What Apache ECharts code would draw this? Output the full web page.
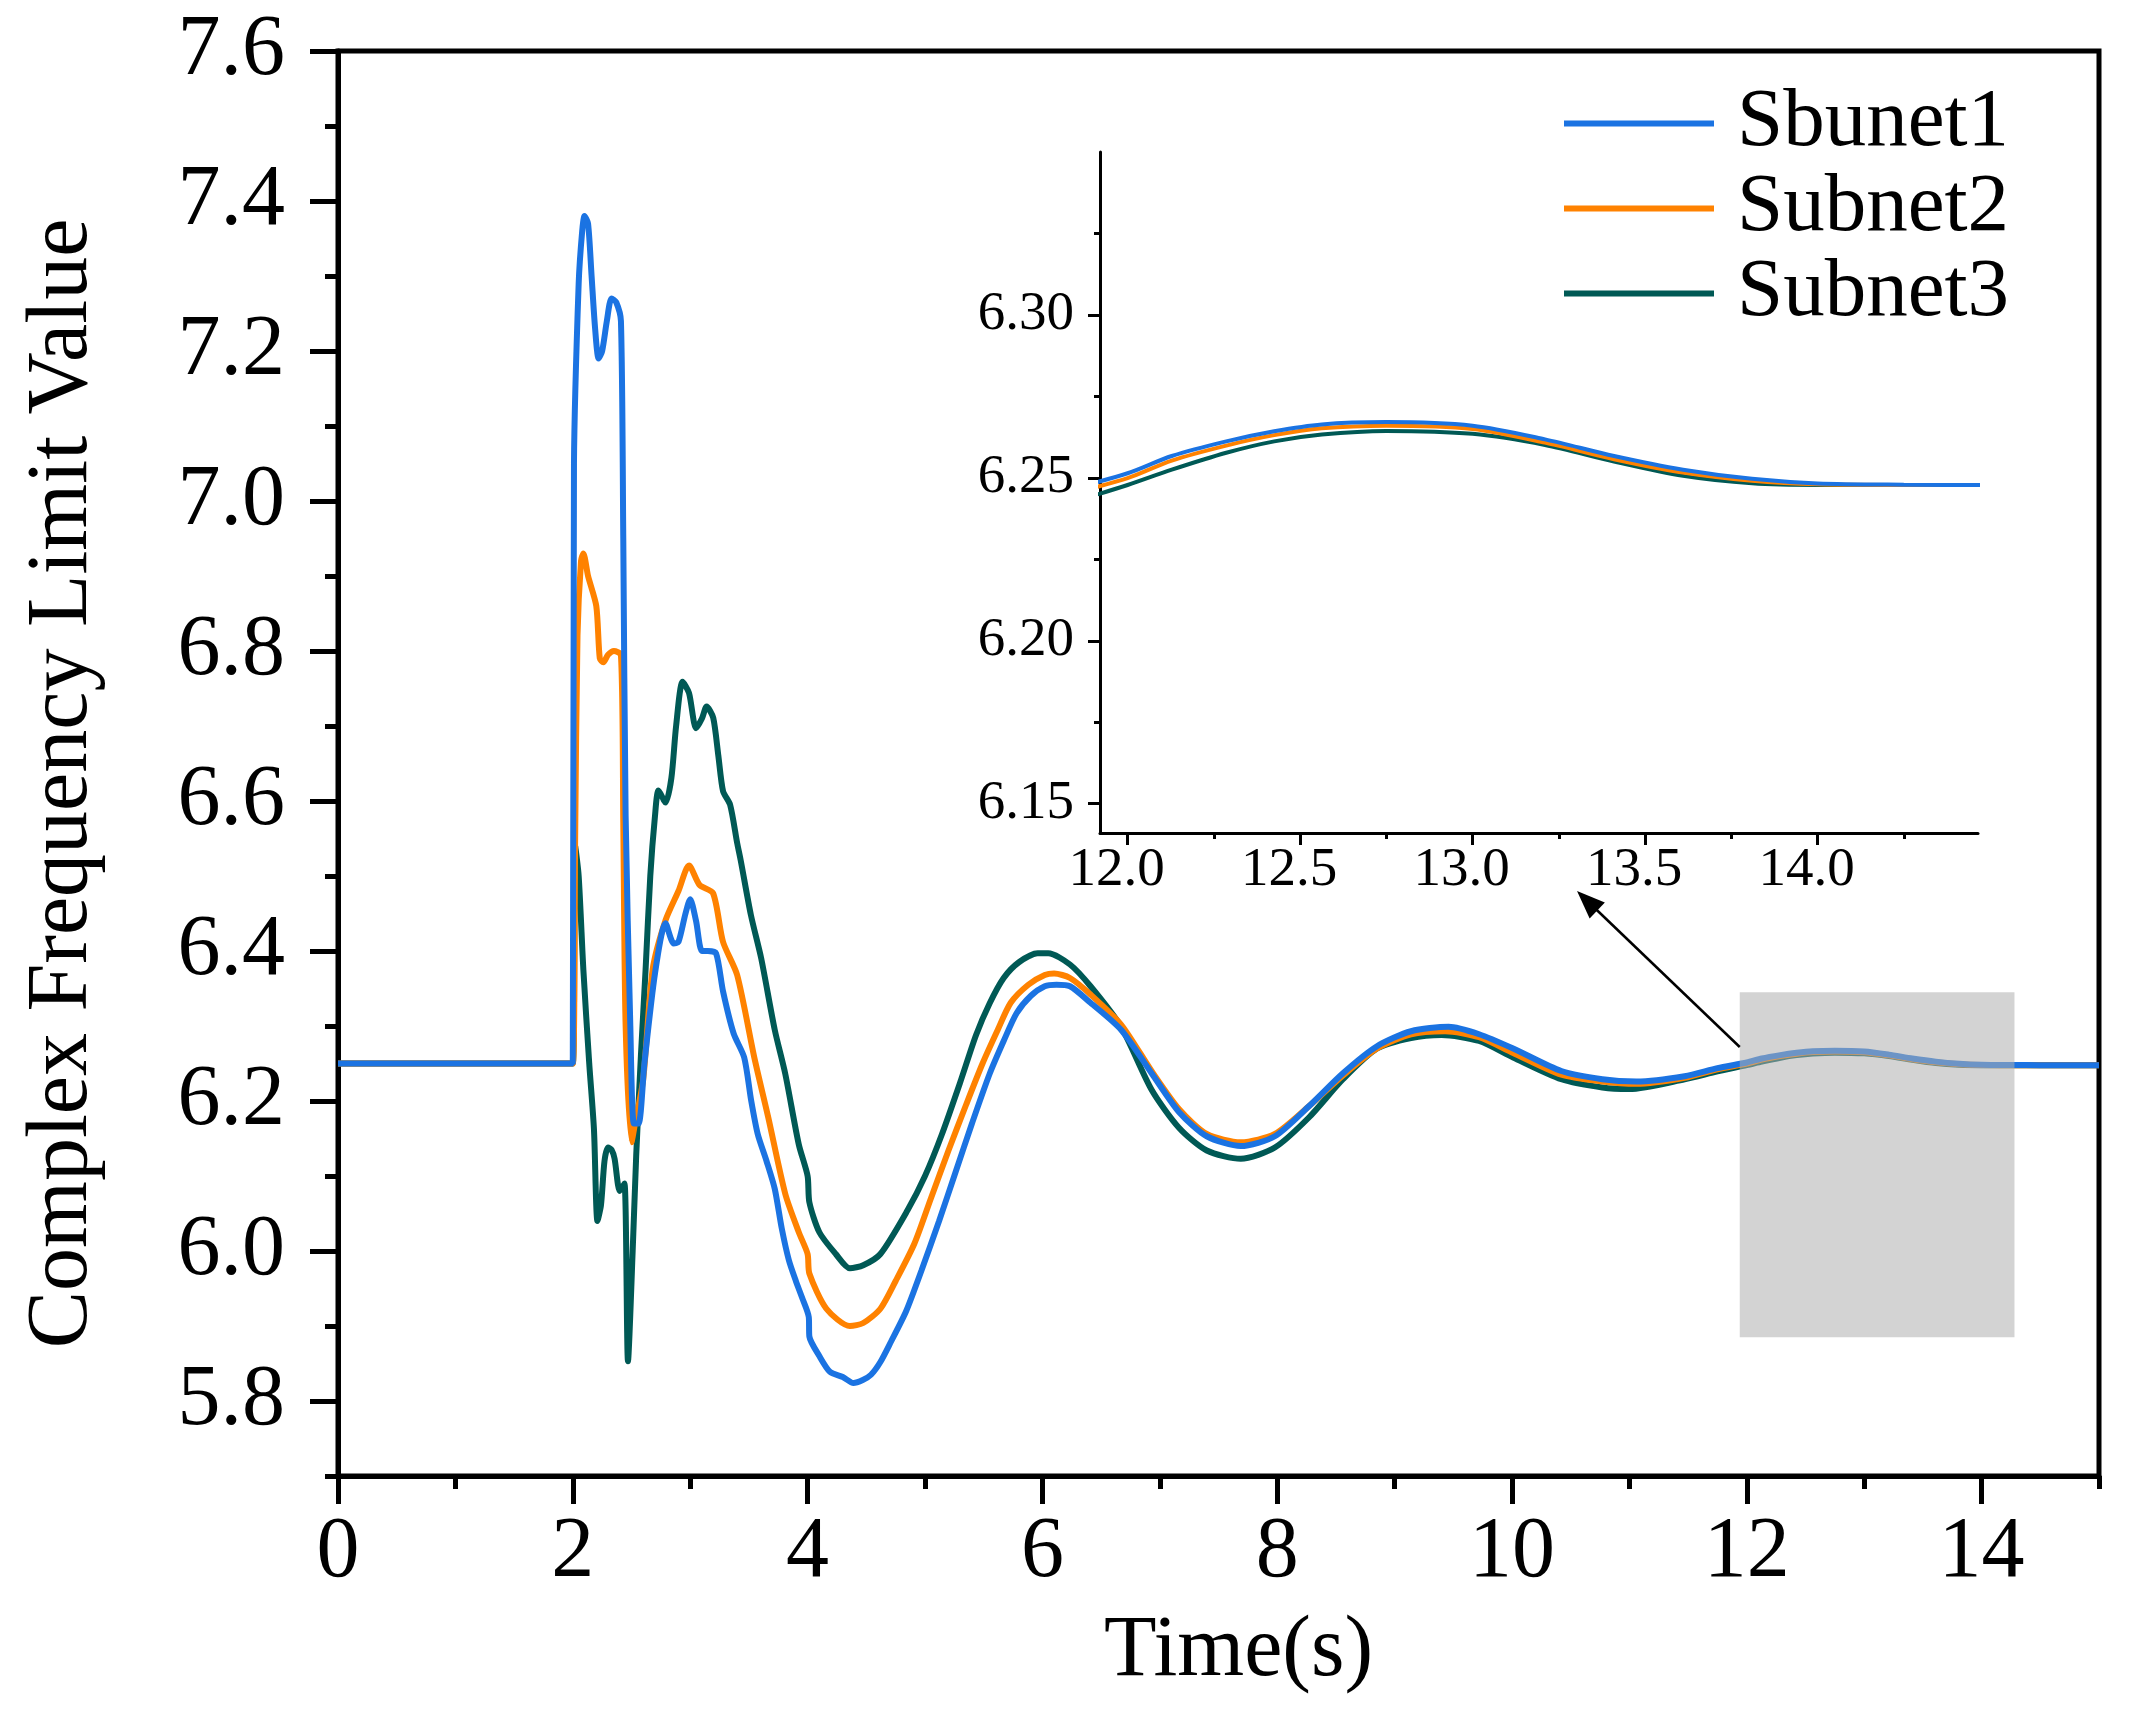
<!DOCTYPE html>
<html><head><meta charset="utf-8">
<script src="https://cdn.jsdelivr.net/npm/echarts@6/dist/echarts.min.js"></script>
<style>html,body{margin:0;padding:0;background:#fff}#c{width:2141px;height:1719px}</style>
</head><body><div id="c"></div>
<script>
// ---- data ----
const sbunet1 = [[0,6.25],[1.95,6.25],[2.0,6.25],[2.01,7.05],[2.05,7.29],[2.08,7.36],[2.1,7.38],[2.13,7.37],[2.16,7.30],[2.19,7.23],[2.22,7.19],[2.25,7.20],[2.29,7.24],[2.33,7.27],[2.37,7.265],[2.41,7.24],[2.43,6.95],[2.45,6.58],[2.49,6.30],[2.52,6.17],[2.56,6.17],[2.61,6.25],[2.7,6.37],[2.79,6.437],[2.86,6.41],[2.9,6.412],[2.96,6.45],[3.0,6.469],[3.05,6.44],[3.1,6.40],[3.15,6.40],[3.22,6.397],[3.28,6.346],[3.37,6.29],[3.46,6.258],[3.52,6.20],[3.575,6.156],[3.65,6.12],[3.72,6.083],[3.78,6.03],[3.84,5.988],[3.9,5.96],[3.955,5.937],[4.01,5.912],[4.015,5.886],[4.1,5.86],[4.19,5.839],[4.3,5.832],[4.39,5.824],[4.47,5.828],[4.54,5.835],[4.62,5.852],[4.71,5.879],[4.84,5.92],[4.97,5.974],[5.12,6.04],[5.26,6.105],[5.4,6.17],[5.55,6.236],[5.67,6.28],[5.78,6.317],[5.9,6.34],[6.02,6.353],[6.12,6.355],[6.235,6.353],[6.41,6.331],[6.67,6.295],[6.93,6.237],[7.165,6.185],[7.4,6.153],[7.69,6.14],[7.98,6.153],[8.27,6.193],[8.56,6.237],[8.85,6.273],[9.14,6.293],[9.46,6.299],[9.72,6.289],[10.01,6.27],[10.42,6.24],[10.77,6.229],[11.06,6.226],[11.47,6.233],[11.75,6.2438],[12.0,6.2514],[12.128,6.2567],[12.286,6.2612],[12.425,6.2643],[12.563,6.2664],[12.75,6.2671],[13.0,6.266],[13.21,6.2618],[13.41,6.2567],[13.61,6.2525],[13.81,6.2497],[14.0,6.2483],[14.25,6.2479],[14.5,6.2478],[15,6.2476]];
const subnet2 = [[0,6.25],[1.95,6.25],[2.0,6.25],[2.02,6.55],[2.04,6.82],[2.07,6.92],[2.09,6.93],[2.13,6.90],[2.2,6.86],[2.23,6.79],[2.26,6.785],[2.3,6.795],[2.35,6.80],[2.41,6.795],[2.43,6.57],[2.45,6.30],[2.50,6.145],[2.53,6.17],[2.6,6.229],[2.68,6.375],[2.79,6.441],[2.9,6.48],[2.99,6.514],[3.08,6.488],[3.195,6.477],[3.28,6.412],[3.4,6.368],[3.546,6.258],[3.665,6.178],[3.81,6.076],[3.925,6.025],[4.0,5.996],[4.015,5.97],[4.16,5.923],[4.36,5.90],[4.474,5.904],[4.62,5.923],[4.75,5.96],[4.91,6.01],[5.05,6.07],[5.2,6.134],[5.35,6.195],[5.49,6.25],[5.62,6.295],[5.73,6.331],[5.88,6.355],[6.02,6.368],[6.1,6.37],[6.235,6.364],[6.41,6.342],[6.67,6.302],[6.93,6.24],[7.165,6.189],[7.4,6.156],[7.69,6.145],[7.98,6.156],[8.27,6.193],[8.56,6.234],[8.85,6.27],[9.14,6.289],[9.43,6.293],[9.72,6.285],[10.01,6.264],[10.42,6.235],[10.77,6.226],[11.06,6.223],[11.47,6.231],[11.75,6.2424],[12.0,6.2499],[12.128,6.2553],[12.286,6.2599],[12.425,6.2631],[12.563,6.2652],[12.75,6.2660],[13.0,6.2650],[13.21,6.2608],[13.41,6.2557],[13.61,6.2516],[13.81,6.2491],[14.0,6.2480],[14.25,6.2478],[14.5,6.2478],[15,6.2476]];
const subnet3 = [[0,6.25],[1.95,6.25],[2.0,6.25],[2.02,6.54],[2.05,6.5],[2.09,6.375],[2.14,6.25],[2.18,6.163],[2.21,6.04],[2.24,6.061],[2.27,6.12],[2.30,6.138],[2.33,6.135],[2.356,6.123],[2.40,6.08],[2.44,6.09],[2.47,5.853],[2.51,6.0],[2.54,6.127],[2.58,6.26],[2.62,6.375],[2.66,6.5],[2.70,6.58],[2.73,6.614],[2.79,6.598],[2.84,6.631],[2.88,6.7],[2.935,6.759],[2.99,6.744],[3.05,6.697],[3.1,6.71],[3.14,6.726],[3.196,6.711],[3.24,6.66],[3.28,6.613],[3.34,6.595],[3.40,6.544],[3.43,6.521],[3.517,6.448],[3.605,6.39],[3.72,6.295],[3.81,6.236],[3.925,6.142],[4.0,6.10],[4.015,6.065],[4.1,6.025],[4.24,5.996],[4.36,5.977],[4.474,5.981],[4.62,5.996],[4.85,6.054],[5.0,6.1],[5.145,6.156],[5.3,6.225],[5.435,6.288],[5.55,6.33],[5.67,6.364],[5.8,6.385],[5.96,6.397],[6.05,6.397],[6.235,6.382],[6.41,6.353],[6.67,6.299],[6.93,6.215],[7.165,6.164],[7.4,6.134],[7.69,6.123],[7.98,6.138],[8.27,6.178],[8.56,6.229],[8.85,6.27],[9.14,6.284],[9.40,6.288],[9.72,6.28],[10.01,6.258],[10.42,6.229],[10.77,6.218],[11.0,6.216],[11.47,6.229],[11.75,6.2395],[12.0,6.2478],[12.128,6.2525],[12.286,6.2577],[12.425,6.2612],[12.563,6.2633],[12.75,6.2644],[13.0,6.2635],[13.21,6.2601],[13.41,6.255],[13.61,6.2506],[13.81,6.2483],[14.0,6.2478],[14.25,6.2478],[14.5,6.2478],[15,6.2476]];

const seriesNames = ['Sbunet1','Subnet2','Subnet3'];
const xMajor = [0,2,4,6,8,10,12,14];
const xMinor = [1,3,5,7,9,11,13,15];
const yMajor = [5.8,6.0,6.2,6.4,6.6,6.8,7.0,7.2,7.4,7.6];
const yMinor = [5.7,5.9,6.1,6.3,6.5,6.7,6.9,7.1,7.3,7.5];
const insetXMajor = [12.0,12.5,13.0,13.5,14.0];
const insetXMinor = [12.25,12.75,13.25,13.75,14.25];
const insetYMajor = [6.15,6.20,6.25,6.30];
const insetYMinor = [6.175,6.225,6.275,6.325];
const zoomBox = [[11.94,5.885],[14.28,6.345]];
const arrowLine = [[11.94,6.272],[10.64,6.467]];

// ---- style ----
const FONT = 'Liberation Serif';
const BLUE = '#1b73e2', ORANGE = '#ff8200', GREEN = '#005955';

function mainLine(name, data, color) {
  return {type:'line', name:name, data:data, xAxisIndex:0, yAxisIndex:0, symbol:'none', showSymbol:false,
    smooth:0.25, lineStyle:{color:color, width:6}, itemStyle:{color:color}, z:3, silent:true};
}
function insetLine(name, data, color) {
  return {type:'line', name:name, data:data, xAxisIndex:2, yAxisIndex:2, symbol:'none', showSymbol:false,
    smooth:0.3, lineStyle:{color:color, width:4}, itemStyle:{color:color}, z:3, silent:true};
}
function tickAxis(grid, min, max, pos, vals, len, w) {
  return {gridIndex:grid, type:'value', min:min, max:max, position:pos,
    axisLine:{show:false, onZero:false},
    axisTick:{show:true, inside:false, length:len, lineStyle:{color:'#000', width:w}, customValues:vals},
    axisLabel:{show:false}, splitLine:{show:false}};
}

const option = {
  animation:false,
  backgroundColor:'#fff',
  grid:[
    {left:338, right:42, top:51, bottom:243, show:true, borderColor:'#000', borderWidth:5, backgroundColor:'transparent'},
    {left:1100, right:163, top:152, bottom:886, show:false}
  ],
  legend:{
    data:seriesNames.map(function(n){return {name:n, icon:'rect'};}),
    orient:'vertical', left:1559, top:76,
    itemWidth:150, itemHeight:6, itemGap:0, selectedMode:false,
    textStyle:{fontFamily:FONT, fontSize:83, color:'#000', lineHeight:85, padding:[0,0,0,18]}
  },
  xAxis:[
    {gridIndex:0, type:'value', min:0, max:15, position:'bottom',
      axisLine:{show:true, onZero:false, lineStyle:{color:'#000', width:5}},
      axisTick:{show:true, inside:false, length:28, lineStyle:{color:'#000', width:5}, customValues:xMajor},
      axisLabel:{show:true, customValues:xMajor, margin:34, color:'#000', fontFamily:FONT, fontSize:86},
      splitLine:{show:false},
      name:'Time(s)', nameLocation:'middle', nameGap:133,
      nameTextStyle:{fontFamily:FONT, fontSize:86, color:'#000', padding:[0,0,0,40]}},
    tickAxis(0, 0, 15, 'bottom', xMinor, 13, 5),
    {gridIndex:1, type:'value', min:11.92, max:14.465, position:'bottom',
      axisLine:{show:true, onZero:false, lineStyle:{color:'#000', width:3}},
      axisTick:{show:true, inside:false, length:12, lineStyle:{color:'#000', width:3}, customValues:insetXMajor},
      axisLabel:{show:true, customValues:insetXMajor, margin:10, color:'#000', fontFamily:FONT, fontSize:55,
        padding:[0,22,0,0], formatter:function(v){return Number(v).toFixed(1);}},
      splitLine:{show:false}},
    tickAxis(1, 11.92, 14.465, 'bottom', insetXMinor, 6, 3)
  ],
  yAxis:[
    {gridIndex:0, type:'value', min:5.7, max:7.6, position:'left',
      axisLine:{show:true, onZero:false, lineStyle:{color:'#000', width:5}},
      axisTick:{show:true, inside:false, length:28, lineStyle:{color:'#000', width:5}, customValues:yMajor},
      axisLabel:{show:true, customValues:yMajor, margin:53, color:'#000', fontFamily:FONT, fontSize:86,
        formatter:function(v){return Number(v).toFixed(1);}},
      splitLine:{show:false},
      name:'Complex Frequency Limit Value', nameLocation:'middle', nameGap:232,
      nameTextStyle:{fontFamily:FONT, fontSize:86, color:'#000', padding:[0,40,0,0]}},
    tickAxis(0, 5.7, 7.6, 'left', yMinor, 13, 5),
    {gridIndex:1, type:'value', min:6.141, max:6.35, position:'left',
      axisLine:{show:true, onZero:false, lineStyle:{color:'#000', width:3}},
      axisTick:{show:true, inside:false, length:12, lineStyle:{color:'#000', width:3}, customValues:insetYMajor},
      axisLabel:{show:true, customValues:insetYMajor, margin:26, color:'#000', fontFamily:FONT, fontSize:55,
        formatter:function(v){return Number(v).toFixed(2);}},
      splitLine:{show:false}},
    tickAxis(1, 6.141, 6.35, 'left', insetYMinor, 6, 3)
  ],
  series:[
    mainLine(seriesNames[2], subnet3, GREEN),
    mainLine(seriesNames[1], subnet2, ORANGE),
    mainLine(seriesNames[0], sbunet1, BLUE),
    insetLine('inset3', subnet3, GREEN),
    insetLine('inset2', subnet2, ORANGE),
    insetLine('inset1', sbunet1, BLUE),
    {type:'line', name:'zoomMarker', data:sbunet1, xAxisIndex:0, yAxisIndex:0, symbol:'none', showSymbol:false,
      lineStyle:{opacity:0, width:0}, z:10, silent:true,
      markArea:{silent:true, z:10, itemStyle:{color:'rgba(175,175,175,0.55)'},
        data:[[{coord:zoomBox[0]},{coord:zoomBox[1]}]]},
      markLine:{silent:true, z:10, symbol:['none','triangle'], symbolSize:[22,28], label:{show:false},
        lineStyle:{color:'#000', width:2.5, type:'solid'},
        data:[[{coord:arrowLine[0]},{coord:arrowLine[1]}]]}}
  ]
};
const chart = echarts.init(document.getElementById('c'), null, {renderer:'canvas'});
chart.setOption(option);
</script></body></html>
